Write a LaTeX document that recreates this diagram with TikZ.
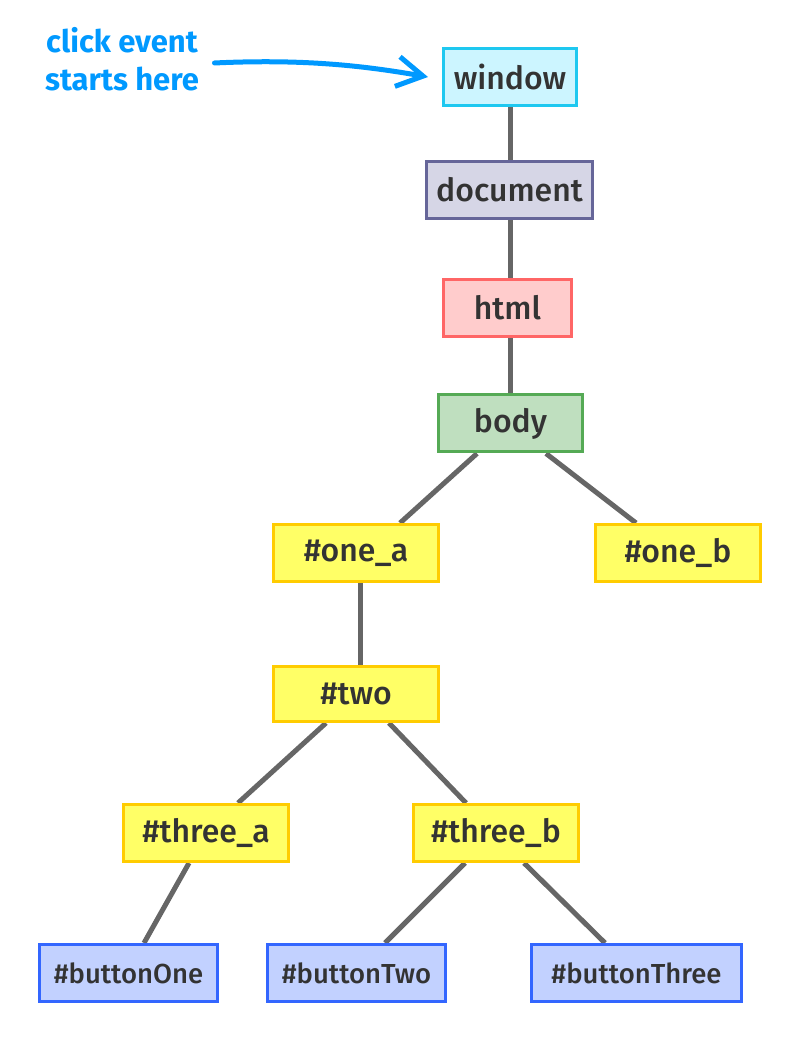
\documentclass[tikz,border=0pt]{standalone}
\usepackage{fontspec}
\setmainfont{Fira Sans}
\newfontfamily\nodefont{Fira Sans Medium}
\usetikzlibrary{arrows.meta,backgrounds}
\definecolor{edgegray}{HTML}{666666}
\definecolor{txt}{HTML}{333333}
\definecolor{winfill}{HTML}{CCF5FF}
\definecolor{windraw}{HTML}{1EC8F0}
\definecolor{docfill}{HTML}{D6D6E6}
\definecolor{docdraw}{HTML}{666699}
\definecolor{htmlfill}{HTML}{FFCCCC}
\definecolor{htmldraw}{HTML}{FF6666}
\definecolor{bodyfill}{HTML}{BFDFBF}
\definecolor{bodydraw}{HTML}{55AA55}
\definecolor{yelfill}{HTML}{FFFF66}
\definecolor{yeldraw}{HTML}{FFCC00}
\definecolor{blufill}{HTML}{C2D1FF}
\definecolor{bludraw}{HTML}{3366FF}
\definecolor{notecol}{HTML}{0099FF}
\tikzset{
  x=1pt,y=1pt,
  box/.style={draw, line width=3pt, inner sep=0pt, text=txt,
    font=\nodefont\fontsize{32}{36}\selectfont, minimum height=57pt},
  winbox/.style={box, fill=winfill, draw=windraw},
  docbox/.style={box, fill=docfill, draw=docdraw},
  htmlbox/.style={box, fill=htmlfill, draw=htmldraw},
  bodybox/.style={box, fill=bodyfill, draw=bodydraw},
  yelbox/.style={box, fill=yelfill, draw=yeldraw, minimum width=165pt},
  blubox/.style={box, fill=blufill, draw=bludraw, font=\nodefont\fontsize{27.5}{32}\selectfont},
  edge/.style={draw=edgegray, line width=5pt},
  note/.style={text=notecol, font=\fontsize{31}{38}\selectfont\bfseries, align=center},
  notearrow/.style={draw=notecol, line width=5pt, line cap=round,
    -{Straight Barb[length=26pt,width=30pt,line width=5pt]}}
}
\begin{document}
\begin{tikzpicture}
\useasboundingbox (0,0) rectangle (800,1060);
\node[winbox, minimum width=133pt] (window) at (510,983) {window};
\node[docbox, minimum width=166pt] (document) at (509.5,870) {document};
\node[htmlbox, minimum width=128pt] (html) at (507.5,752) {html};
\node[bodybox, minimum width=144pt] (body) at (510.5,636.5) {body};
\node[yelbox] (one_a) at (356,507) {\#one\_a};
\node[yelbox] (one_b) at (678,507) {\#one\_b};
\node[yelbox, minimum height=55pt] (two) at (356,366) {\#two};
\node[yelbox] (three_a) at (206,227) {\#three\_a};
\node[yelbox] (three_b) at (496,227) {\#three\_b};
\node[blubox, minimum width=178pt] (b1) at (128.5,87) {\#buttonOne};
\node[blubox, minimum width=178pt] (b2) at (356.5,87) {\#buttonTwo};
\node[blubox, minimum width=210pt] (b3) at (636.5,87) {\#buttonThree};
\node[note] (note) at (122,1001) {click event\\starts here};
\begin{scope}[on background layer]
\draw[edge] (window.south) -- (window.south |- document.north);
\draw[edge] (window.south |- document.south) -- (window.south |- html.north);
\draw[edge] (window.south |- html.south) -- (window.south |- body.north);
\draw[edge] ([xshift=-33.5pt]body.south) -- ([xshift=44pt]one_a.north);
\draw[edge] ([xshift=35.5pt]body.south) -- ([xshift=-42pt]one_b.north);
\draw[edge] ([xshift=4pt]one_a.south) -- ([xshift=4pt]two.north);
\draw[edge] ([xshift=-30pt]two.south) -- ([xshift=32pt]three_a.north);
\draw[edge] ([xshift=33pt]two.south) -- ([xshift=-30pt]three_b.north);
\draw[edge] ([xshift=-17pt]three_a.south) -- ([xshift=15.5pt]b1.north);
\draw[edge] ([xshift=-31pt]three_b.south) -- ([xshift=28.5pt]b2.north);
\draw[edge] ([xshift=28pt]three_b.south) -- ([xshift=-31.5pt]b3.north);
\end{scope}
\draw[notearrow] ([xshift=12pt,yshift=-4pt]note.east) .. controls (300,1001) and (360,995) .. ([xshift=-14pt]window.west);
\end{tikzpicture}
\end{document}
